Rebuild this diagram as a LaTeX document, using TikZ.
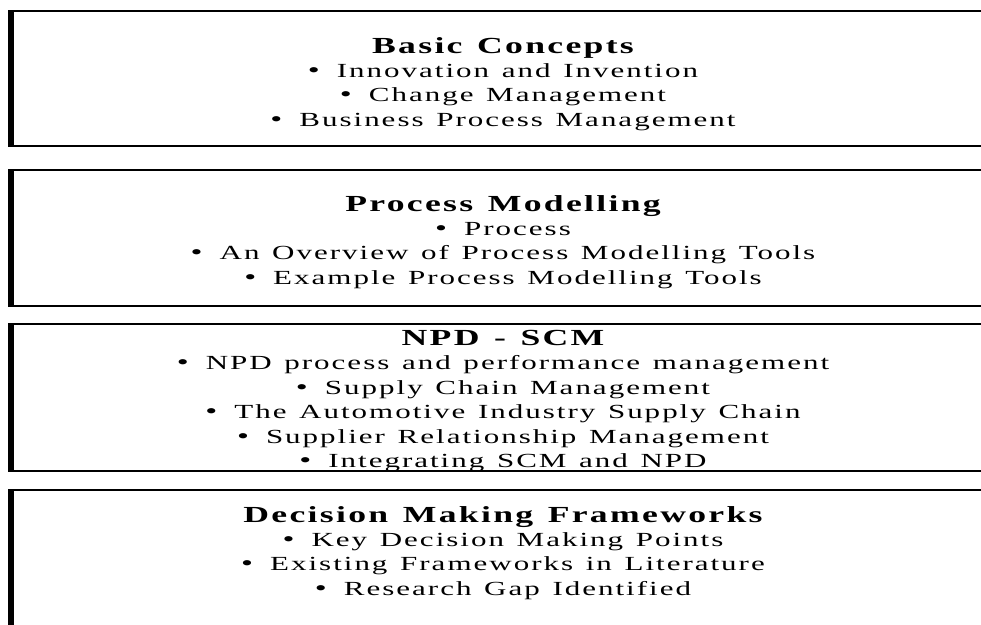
\documentclass[tikz,border=0pt]{standalone}
\usepackage{fontspec}
\setmainfont{Liberation Serif}[FakeStretch=1.55,LetterSpace=10,WordSpace=1.3]
\usetikzlibrary{positioning}

\newcommand{\itm}[1]{{\fontsize{22}{24.4}\selectfont\textbullet}\hspace{17pt}#1}
\newcommand{\hd}[1]{{\fontsize{23}{24.4}\selectfont\bfseries #1}}

\tikzset{
  sectiontext/.style={anchor=north, align=center, inner sep=0pt,
    font=\fontsize{20}{24.4}\selectfont},
  rule/.style={line width=2.5pt},
  leftrule/.style={line width=5.5pt}
}

\begin{document}
\begin{tikzpicture}[x=1pt,y=-1pt]
\useasboundingbox (0,0) rectangle (981,624);
\clip (0,0) rectangle (981,624);
% frames, open on the right
\foreach \ya/\yb in {11/146,170/306,324/471,490/700}{
  \draw[rule] (11,\ya) -- (1000,\ya) (11,\yb) -- (1000,\yb);
  \draw[leftrule] (11,\ya-1) -- (11,\yb+1);
}
\node[sectiontext] (concepts) at (503,37) {\hd{Basic Concepts}\\
  \itm{Innovation and Invention}\\
  \itm{Change Management}\\
  \itm{Business Process Management}};
\node[sectiontext] (modelling) at (503,195) {\hd{Process Modelling}\\
  \itm{Process}\\
  \itm{An Overview of Process Modelling Tools}\\
  \itm{Example Process Modelling Tools}};
\node[sectiontext] (npdscm) at (503,330) {\hd{NPD - SCM}\\
  \itm{NPD process and performance management}\\
  \itm{Supply Chain Management}\\
  \itm{The Automotive Industry Supply Chain}\\
  \itm{Supplier Relationship Management}\\
  \itm{Integrating SCM and NPD}};
\node[sectiontext] (frameworks) at (503,506) {\hd{Decision Making Frameworks}\\
  \itm{Key Decision Making Points}\\
  \itm{Existing Frameworks in Literature}\\
  \itm{Research Gap Identified}};
\end{tikzpicture}
\end{document}
